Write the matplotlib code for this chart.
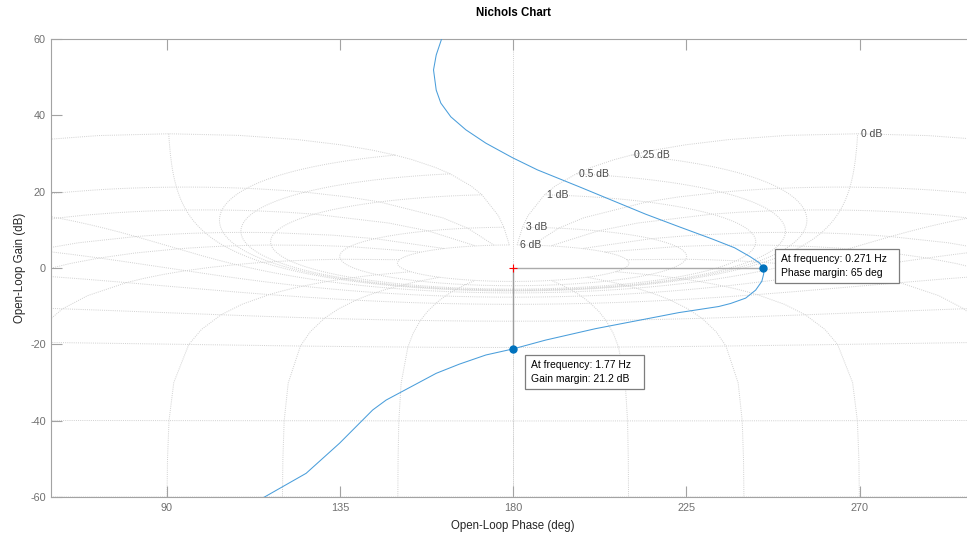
#!/usr/bin/env python3
"""
Nichols chart of an open-loop response with gain and phase margins.
"""

import numpy as np
import matplotlib.pyplot as plt
import matplotlib.transforms as mtransforms
from matplotlib.patches import Rectangle

plt.rcParams["font.family"] = ["Liberation Sans", "DejaVu Sans"]

# Open-loop response (phase in deg, gain in dB)
LOOP_PHASE = [
    162.2, 161.4, 160.0, 159.3, 160.0, 161.2, 163.8, 167.7, 172.9, 179.8,
    186.3, 197.1, 214.4, 223.1, 231.7, 237.5, 241.5, 243.9, 245.0, 245.1,
    244.6, 243.0, 240.4, 236.5, 233.4, 223.0, 217.9, 201.4, 188.4, 180.0,
    172.9, 166.0, 160.0, 147.0, 143.5, 134.9, 126.2, 115.4, 110.0,
]
LOOP_GAIN = [
    63.0, 60.0, 55.8, 51.9, 46.6, 43.2, 39.6, 36.2, 32.7, 28.9,
    25.7, 21.3, 14.1, 10.8, 7.6, 5.3, 3.0, 1.4, 0.0, -1.5,
    -3.5, -5.8, -7.9, -9.3, -10.1, -11.7, -12.7, -15.9, -18.9, -21.2,
    -22.8, -25.2, -27.6, -34.6, -37.2, -45.9, -53.8, -60.0, -63.0,
]

# Stability margins
PM_FREQ_HZ = 0.271
PHASE_MARGIN_DEG = 65
GM_FREQ_HZ = 1.77
GAIN_MARGIN_DB = 21.2
CRITICAL_PHASE = 180

# Nichols grid: closed-loop gains (dB) and closed-loop phases (deg)
M_LEVELS_DB = [6, 3, 1, 0.5, 0.25, 0, -1, -3, -6, -12, -20, -40, -60, -80]
N_LEVELS_DEG = [1, 5, 10, 20, 30, 50, 90, 120, 150, 180,
                -1, -5, -10, -20, -30, -50, -90, -120, -150]
N_SAMPLES_DB = [6, 3, 2, 1, .75, .5, .4, .3, .25, .2, .15, .1, .05, 0,
                -.05, -.1, -.15, -.2, -.25, -.3, -.4, -.5, -.75, -1, -2,
                -3, -4, -5, -6, -9, -12, -16, -20, -30, -40, -50, -60,
                -80, -100]

X_TICKS = [90, 135, 180, 225, 270]
Y_TICKS = [-60, -40, -20, 0, 20, 40, 60]

GRID_COLOR = "#d0d0d0"
GRID_STYLE = (0, (1, 1.2))
AXIS_COLOR = "#a3a3a3"
LINE_COLOR = "#4a9edb"
MARKER_COLOR = "#0072bd"


def open_loop(cl):
    """Open-loop phase (deg) and gain (dB) for closed-loop values cl."""
    ol = cl / (1 - cl)
    phase = np.degrees(np.unwrap(np.angle(ol)))
    gain = 20 * np.log10(np.abs(ol))
    return phase, gain


def draw_grid(ax):
    # constant closed-loop gain contours
    theta = np.radians(np.linspace(1, 359, 1200))
    labels = []
    for level in M_LEVELS_DB:
        m = 10 ** (level / 20)
        phase, gain = open_loop(m * np.exp(1j * theta))
        phase += 360 * np.round((180 - phase[len(phase) // 2]) / 360)
        ax.plot(phase, gain, color=GRID_COLOR, lw=0.7, ls=GRID_STYLE, zorder=1)
        labels.append((level, phase[-1], gain[-1]))

    # constant closed-loop phase contours
    r = 10 ** (np.array(N_SAMPLES_DB)[::-1] / 20)
    for level in N_LEVELS_DEG:
        phase, gain = open_loop(r * np.exp(1j * np.radians(level)))
        phase += 360 * np.round((180 - phase[-1]) / 360)
        ax.plot(phase, gain, color=GRID_COLOR, lw=0.7, ls=GRID_STYLE, zorder=1)
    ax.axvline(CRITICAL_PHASE, color=GRID_COLOR, lw=0.7, ls=GRID_STYLE,
               zorder=1)

    x0, x1 = ax.get_xlim()
    for level, ph, g in labels:
        if x0 < ph < x1 and g < 60:
            ax.annotate(f"{level:g} dB", (ph, g), xytext=(3, 0),
                        textcoords="offset pixels", ha="left", va="center",
                        fontsize=7.5, color="#4a4a4a", zorder=2)


def data_tip(ax, point, lines, box, text_dx, line_dy):
    """Boxed two-line readout placed at pixel offsets from a data point."""
    anchor = mtransforms.ScaledTranslation(point[0], point[1], ax.transData)
    rect = Rectangle(box[:2], box[2], box[3], fc="white", ec="#7d7d7d",
                     lw=0.9, transform=mtransforms.IdentityTransform() + anchor,
                     zorder=7)
    ax.add_artist(rect)
    for text, dy in zip(lines, line_dy):
        ax.annotate(text, point, xytext=(text_dx, dy),
                    textcoords="offset pixels", ha="left", va="center",
                    fontsize=7.5, color="black", zorder=8)


def main():
    fig = plt.figure(figsize=(9.67, 5.36), dpi=100)
    ax = fig.add_axes([0.0531, 0.0728, 0.9552, 0.8545])
    ax.set_xlim(60, 300)
    ax.set_ylim(-60, 60)

    draw_grid(ax)

    # margin markers
    pm_phase = CRITICAL_PHASE + PHASE_MARGIN_DEG
    ax.plot([CRITICAL_PHASE, pm_phase], [0, 0], color="#ababab", lw=1,
            zorder=3)
    ax.plot([CRITICAL_PHASE, CRITICAL_PHASE], [0, -GAIN_MARGIN_DB],
            color="#9c9c9c", lw=1, zorder=3)
    ax.plot(CRITICAL_PHASE, 0, marker="+", color="red", ms=6, mew=0.8,
            zorder=4)

    ax.plot(LOOP_PHASE, LOOP_GAIN, color=LINE_COLOR, lw=0.75, zorder=5)
    ax.plot([pm_phase, CRITICAL_PHASE], [0, -GAIN_MARGIN_DB], ls="none",
            marker="o", ms=5, color=MARKER_COLOR, zorder=6)

    data_tip(ax, (pm_phase, 0),
             [f"At frequency: {PM_FREQ_HZ:g} Hz",
              f"Phase margin: {PHASE_MARGIN_DEG:g} deg"],
             box=(12, -15.3, 124, 34.3), text_dx=17.7, line_dy=(8.7, -4.7))
    data_tip(ax, (CRITICAL_PHASE, -GAIN_MARGIN_DB),
             [f"At frequency: {GM_FREQ_HZ:g} Hz",
              f"Gain margin: {GAIN_MARGIN_DB:g} dB"],
             box=(12.2, -40.6, 118.6, 34.3), text_dx=17.5,
             line_dy=(-16.6, -30.3))

    ax.set_xticks(X_TICKS)
    ax.set_xticklabels([str(t) for t in X_TICKS])
    ax.set_yticks(Y_TICKS)
    ax.set_yticklabels([str(t) for t in Y_TICKS])
    ax.tick_params(direction="in", length=8, width=0.8, color=AXIS_COLOR,
                   labelcolor="#707070", labelsize=7.8, top=True, pad=4)
    for side in ("left", "bottom", "top"):
        ax.spines[side].set_color(AXIS_COLOR)
        ax.spines[side].set_linewidth(0.8)
    ax.spines["right"].set_visible(False)

    ax.set_xlabel("Open-Loop Phase (deg)", fontsize=8.3, color="#262626",
                  va="center")
    ax.xaxis.set_label_coords(0.5, -0.0627)
    ax.set_ylabel("Open-Loop Gain (dB)", fontsize=8.3, color="#262626",
                  va="center")
    ax.yaxis.set_label_coords(-0.034, 0.5)
    ax.text(0.5, 1.0568, "Nichols Chart", transform=ax.transAxes,
            ha="center", va="center", fontsize=8.3, fontweight="bold")

    fig.savefig("out.png", dpi=100)
    plt.close(fig)


if __name__ == "__main__":
    main()
